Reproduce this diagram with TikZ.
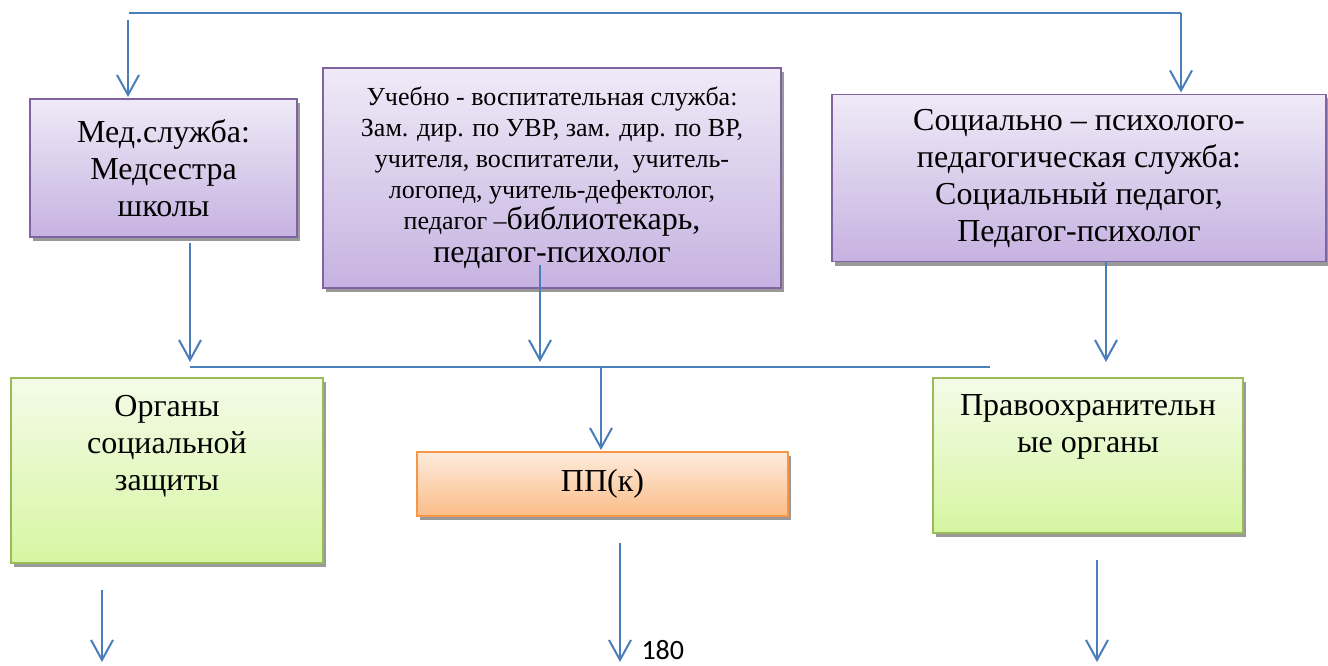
\documentclass[tikz,border=0pt]{standalone}
\usepackage{fontspec}
\setmainfont{Liberation Serif}
\newfontfamily\pagefont{Carlito}
\usetikzlibrary{arrows.meta, shadows}

\definecolor{linkblue}{HTML}{4A7EBB}
\definecolor{lilacedge}{HTML}{8064A2}
\definecolor{lilactop}{HTML}{EFEAF7}
\definecolor{lilacbottom}{HTML}{C6B2E1}
\definecolor{greenedge}{HTML}{9BBB59}
\definecolor{greentop}{HTML}{F4FBE8}
\definecolor{greenbottom}{HTML}{D6F6A2}
\definecolor{orangeedge}{HTML}{F79646}
\definecolor{orangetop}{HTML}{FDEBDC}
\definecolor{orangebottom}{HTML}{FBBD88}

\newcommand{\smalltext}[1]{{\fontsize{26}{31}\selectfont #1}}

\begin{document}
\begin{tikzpicture}[
    x = 1pt, y = -1pt,
    >= {Straight Barb[length=20pt, width=22pt]},
    link/.style = {draw=linkblue, line width=2pt},
    box/.style = {line width=1.6pt, inner sep=0pt, outer sep=0pt, align=center,
        font=\fontsize{32}{37}\selectfont,
        drop shadow={shadow xshift=3pt, shadow yshift=-4pt, fill=black!40, opacity=1}},
    service/.style = {box, draw=lilacedge, top color=lilactop, bottom color=lilacbottom},
    partner/.style = {box, draw=greenedge, top color=greentop, bottom color=greenbottom},
    council/.style = {box, draw=orangeedge, top color=orangetop, bottom color=orangebottom}]

\useasboundingbox (0, 0) rectangle (1328, 666);

% Services
\node[service, minimum width=267pt, minimum height=138pt] (med) at (163.5, 168)
    {Мед.служба:\\ Медсестра\\ школы};

\node[service, minimum width=458pt, minimum height=220pt] (study) at (552, 178)
    {\smalltext{Учебно - воспитательная служба:}\\[-6pt]
     \smalltext{Зам. дир. по УВР, зам. дир. по ВР,}\\[-6pt]
     \smalltext{учителя, воспитатели,\ \ учитель-}\\[-6pt]
     \smalltext{логопед, учитель-дефектолог,}\\[-6pt]
     \smalltext{педагог –}библиотекарь,\\[-4pt]
     педагог-психолог};

\node[service, minimum width=494pt, minimum height=167pt] (social) at (1079, 178)
    {Социально – психолого-\\ педагогическая служба:\\ Социальный педагог,\\ Педагог-психолог};

% Partners
\node[partner, minimum width=312pt, minimum height=185pt] (welfare) at (167, 470.5)
    {\parbox[c][185pt][t]{300pt}{\centering\vspace{17pt}Органы\\ социальной\\ защиты}};

\node[council, minimum width=371pt, minimum height=64pt] (pp) at (602.5, 484) {ПП(к)};

\node[partner, minimum width=310pt, minimum height=155pt] (police) at (1088, 455.5)
    {\parbox[c][155pt][t]{300pt}{\centering\vspace{17pt}Правоохранительн\\ ые органы}};

% Connectors
\coordinate (topL) at (129, 13);
\coordinate (topR) at (1181, 13);
\coordinate (medin) at (128, 20);
\draw[link] (topL) -- (topR);
\draw[link, ->] (medin) -- ([yshift=2pt]medin |- med.north);
\draw[link, ->] (topR) -- ([yshift=2pt]topR |- social.north);

\coordinate (busL) at (190, 367);
\coordinate (busR) at (990, 367);
\coordinate (busmid) at (601, 367);
\coordinate (medout) at (190, 243);
\coordinate (studyout) at (540, 265);
\coordinate (socialout) at (1106, 262);
\draw[link] (busL) -- (busR);
\draw[link, ->] (medout) -- ([yshift=5pt]medout |- busL);
\draw[link, ->] (studyout) -- ([yshift=5pt]studyout |- busL);
\draw[link, ->] (socialout) -- ([yshift=5pt]socialout |- busL);
\draw[link, ->] (busmid) -- ([yshift=2pt]busmid |- pp.north);

\coordinate (outL) at (102, 590);
\coordinate (outM) at (620, 543);
\coordinate (outR) at (1097, 560);
\draw[link, ->] (outL) -- ++(0, 72);
\draw[link, ->] (outM) -- ++(0, 119);
\draw[link, ->] (outR) -- ++(0, 102);

\node[font=\pagefont\fontsize{28}{30}\selectfont, anchor=west] (page) at (638, 650) {180};

\end{tikzpicture}
\end{document}
